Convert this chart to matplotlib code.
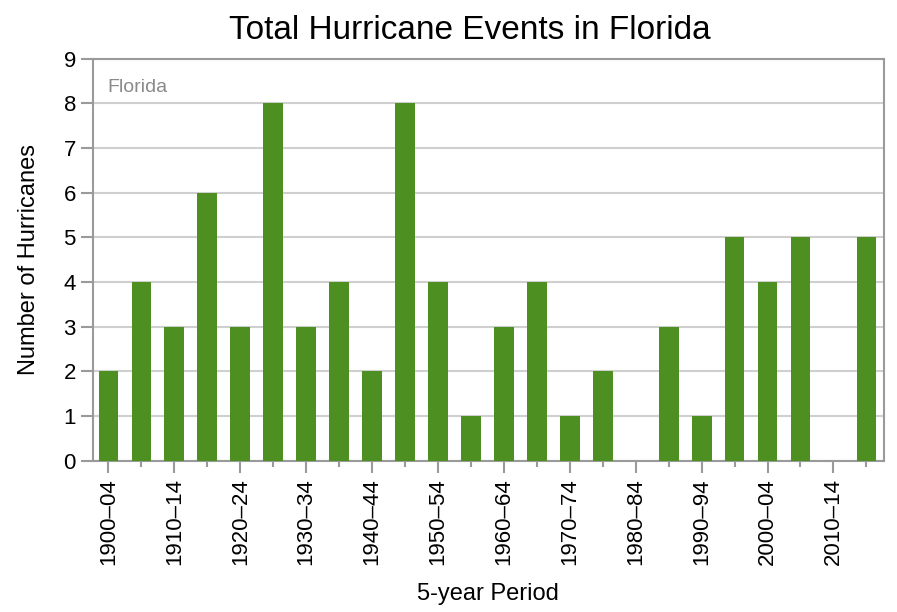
import numpy as np
import matplotlib.pyplot as plt

plt.rcParams["font.family"] = ["Liberation Sans", "DejaVu Sans"]

periods = ["1900–04", "1905–09", "1910–14", "1915–19", "1920–24", "1925–29",
           "1930–34", "1935–39", "1940–44", "1945–49", "1950–54", "1955–59",
           "1960–64", "1965–69", "1970–74", "1975–79", "1980–84", "1985–89",
           "1990–94", "1995–99", "2000–04", "2005–09", "2010–14", "2015–19"]
counts = [2, 4, 3, 6, 3, 8, 3, 4, 2, 8, 4, 1, 3, 4, 1, 2, 0, 3, 1, 5, 4, 5, 0, 5]

bar_color = "#4e8f22"
frame_color = "#9a9a9a"

fig = plt.figure(figsize=(8.97, 6.12), dpi=100)
ax = fig.add_axes([0.104, 0.247, 0.881, 0.657])

x = np.arange(len(periods))
ax.bar(x, counts, width=0.6, color=bar_color, zorder=3)

ax.set_xlim(-0.46, len(periods) - 0.48)
ax.set_ylim(0, 9)
ax.set_yticks(range(0, 10))
ax.yaxis.grid(True, color="#cfcfcf", linewidth=1.5, zorder=0)

# labelled ticks every decade, short ticks on the other bars
ax.set_xticks(x[0:-1:2])
ax.set_xticklabels(periods[0:-1:2], rotation=90)
ax.set_xticks(x[1::2], minor=True)

for s in ax.spines.values():
    s.set_color(frame_color)
    s.set_linewidth(1.5)

ax.tick_params(axis="both", which="major", labelsize=16, color=frame_color,
               width=1.5, length=8.5, pad=4)
ax.tick_params(axis="x", which="minor", color=frame_color, width=1.5, length=4)

ax.text(0.018, 0.95, "Florida", transform=ax.transAxes, fontsize=14,
        color="#8a8a8a", ha="left", va="top")

ax.set_title("Total Hurricane Events in Florida", fontsize=24, pad=14, x=0.476)
ax.set_xlabel("5-year Period", fontsize=17, labelpad=13)
ax.set_ylabel("Number of Hurricanes", fontsize=17, labelpad=17)

fig.savefig("out.png", dpi=100)
